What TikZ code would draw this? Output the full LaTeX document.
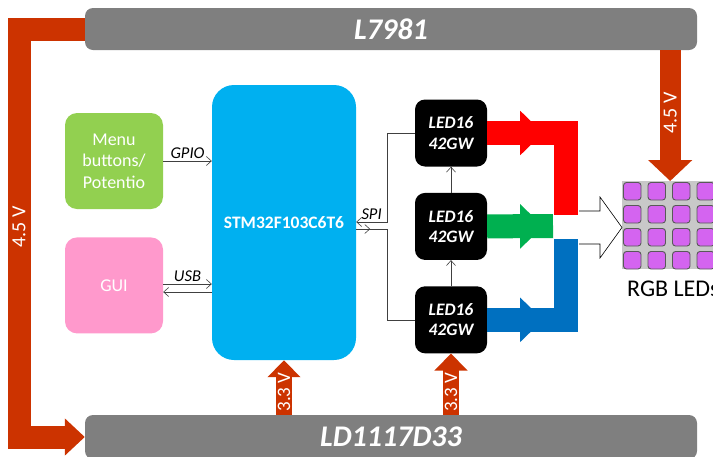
\documentclass[tikz,border=0pt]{standalone}
\usepackage{fontspec}
\setmainfont{Carlito}
\usepackage{xcolor}
\usepackage{tikz}
\usetikzlibrary{positioning, arrows.meta}

\definecolor{barGray}{RGB}{127,127,127}
\definecolor{pwrOrange}{RGB}{204,51,0}
\definecolor{stmBlue}{RGB}{0,176,240}
\definecolor{menuGreen}{RGB}{146,208,80}
\definecolor{guiPink}{RGB}{255,153,204}
\definecolor{ledRed}{RGB}{255,0,0}
\definecolor{ledGreen}{RGB}{0,176,80}
\definecolor{ledBlue}{RGB}{0,112,192}
\definecolor{matGray}{RGB}{200,200,200}
\definecolor{matPurple}{RGB}{212,100,240}

\begin{document}
\begin{tikzpicture}[
  x=1pt, y=-1pt,
  node distance=26pt and 52pt,
  bar/.style={fill=barGray, rounded corners=8pt, minimum width=612pt, minimum height=42pt,
    text=white, font=\fontsize{30}{34}\selectfont\bfseries\itshape},
  blk/.style={rounded corners=12pt, minimum width=98pt, minimum height=96pt,
    text=white, align=center, font=\fontsize{18}{21.5}\selectfont},
  drv/.style={fill=black, rounded corners=10pt, minimum width=72pt, minimum height=67pt,
    text=white, align=center, font=\fontsize{17.5}{20.5}\selectfont\bfseries\itshape},
  arr/.style={-{Straight Barb[length=5pt, width=9pt]}, semithick, draw=black!75},
  lbl/.style={font=\fontsize{16.5}{18}\selectfont\itshape, inner sep=2pt},
  pwr/.style={draw=pwrOrange, line join=miter},
  volt/.style={text=white, rotate=90, inner sep=0pt, font=\fontsize{20}{22}\selectfont},
  rgb/.style={line width=24pt, line join=miter},
  rgbarr/.style={line width=22pt, -{Triangle[width=43pt, length=23pt]}},
]
  \useasboundingbox (0,0) rectangle (713,456);

  \node[bar] (l7981) at (391,29) {L7981};
  \node[bar, minimum height=44pt] (ld1117) at (391,437) {LD1117D33};
  \node[blk, fill=stmBlue, minimum width=144pt, minimum height=275pt, rounded corners=22pt,
    font=\fontsize{17.5}{20}\selectfont\bfseries] (stm) at (284,222.5) {STM32F103C6T6};
  \node[blk, fill=menuGreen] (menu) at (114,161) {Menu\\buttons/\\Potentio};
  \node[blk, fill=guiPink, below=28pt of menu] (gui) {GUI};
  \node[drv] (led1) at (451,133) {LED16\\42GW};
  \node[drv, below=of led1] (led2) {LED16\\42GW};
  \node[drv, below=of led2] (led3) {LED16\\42GW};

  \node[fill=matGray, minimum width=96pt, minimum height=88pt, inner sep=0pt,
    anchor=north west] (leds) at (622,181) {};
  \foreach \c in {0,...,3}
    \foreach \r in {0,...,3}
      \draw[fill=matPurple, draw=black!65, line width=0.9pt, rounded corners=3pt]
        (623.5+24.5*\c, 182.5+23*\r) rectangle ++(17.5,17.5);
  \node[anchor=base west, inner sep=0pt, font=\fontsize{24}{26}\selectfont] (ledtxt)
    at (627,296) {RGB LEDs};

  \draw[pwr, line width=23pt, -{Triangle[width=36pt, length=20pt]}]
    (l7981.west) -| (19,437) -- (ld1117.west);
  \node[volt] (v45a) at (19,227) {4.5 V};
  \draw[pwr, line width=21pt, -{Triangle[width=43pt, length=21pt]}]
    (l7981.south -| leds.north) -- node[volt, pos=0.48] (v45b) {4.5 V} (leds.north);
  \draw[pwr, line width=16pt, -{Triangle[width=32pt, length=17pt]}]
    (ld1117.north -| stm.south) -- node[volt, pos=0.42, font=\fontsize{19}{21}\selectfont] (v33a) {3.3 V} (stm.south);
  \draw[pwr, line width=16pt, -{Triangle[width=32pt, length=17pt]}]
    (ld1117.north -| led3.south) -- node[volt, pos=0.37, font=\fontsize{19}{21}\selectfont] (v33b) {3.3 V} (led3.south);

  \draw[rgb, draw=ledRed] (led1.east) -| (566,215);
  \draw[rgb, draw=ledGreen] (led2.east) -- (553,226);
  \draw[rgb, draw=ledBlue] (led3.east) -| (566,239);
  \draw[rgbarr, color=ledRed] (led1.east) -- ++(56,0);
  \draw[rgbarr, color=ledGreen] (led2.east) -- ++(56,0);
  \draw[rgbarr, color=ledBlue] (led3.east) -- ++(56,0);
  \draw[semithick, fill=white] (579,211) -- (600,211) -- (600,197) -- (622,227.5)
    -- (600,258) -- (600,244) -- (579,244);

  \draw[arr] (menu) -- node[lbl, above] (gpio) {GPIO} (menu.east -| stm.west);
  \draw[arr] (gui.east |- 0,284) -- node[lbl, above] (usb) {USB} (stm.west |- 0,284);
  \draw[arr] (stm.west |- 0,292) -- (gui.east |- 0,292);
  \draw[arr] (led1.west) -| (387,222) -- node[lbl, above] (spi) {SPI} (stm.east |- 0,222);
  \draw[semithick, draw=black!75] (stm.east |- 0,229) -- (387,229) |- (led3.west);
  \draw[arr] (stm.east |- 0,229) -- ++(14,0);
  \draw[arr] (led3) -- (led2);
  \draw[arr] (led2) -- (led1);
\end{tikzpicture}
\end{document}
